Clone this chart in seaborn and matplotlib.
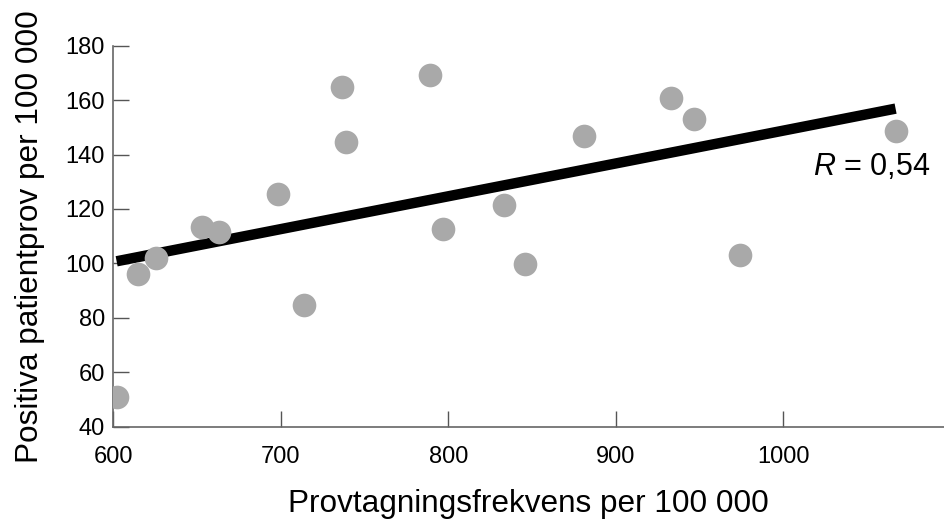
import matplotlib
matplotlib.use("Agg")
import matplotlib.pyplot as plt
import seaborn as sns
import pandas as pd

# Data
provtagning = [602, 614.6, 625.3, 652.8, 663.1, 698.5, 713.9, 736.7, 738.7, 788.9,
               797.0, 833.3, 846.0, 881.2, 933.1, 946.9, 974.3, 1067.1]
positiva = [50.8, 96.1, 101.9, 113.5, 111.4, 125.4, 84.8, 164.8, 144.5, 169.3,
            112.5, 121.6, 99.9, 146.8, 160.8, 153.1, 103.2, 148.7]
x_ticks = [600, 700, 800, 900, 1000]
y_ticks = [40, 60, 80, 100, 120, 140, 160, 180]
x_label = "Provtagningsfrekvens per 100 000"
y_label = "Positiva patientprov per 100 000"
r_text = "$\\mathit{R}$ = 0,54"

df = pd.DataFrame({"x": provtagning, "y": positiva})

sns.set_theme(style="ticks")
plt.rcParams["font.family"] = ["Liberation Sans", "DejaVu Sans"]
plt.rcParams["mathtext.fontset"] = "custom"
plt.rcParams["mathtext.it"] = "Liberation Sans:italic"
plt.rcParams["mathtext.rm"] = "Liberation Sans"

fig = plt.figure(figsize=(9.44, 5.19), dpi=100)
ax = fig.add_axes([0.12, 0.178, 0.88, 0.734])

sns.regplot(data=df, x="x", y="y", ax=ax, ci=None, truncate=True,
            scatter_kws=dict(s=290, color="#a9a9a9", linewidths=0, alpha=1, zorder=3),
            line_kws=dict(color="black", linewidth=7.5, zorder=2, solid_capstyle="butt"))

ax.set_xlim(600, 1096)
ax.set_ylim(40, 180)
ax.set_xticks(x_ticks)
ax.set_yticks(y_ticks)
ax.set_xlabel(x_label, fontsize=22.7, labelpad=15, color="black")
ax.set_ylabel(y_label, fontsize=22.7, labelpad=15, color="black")

for s in ["top", "right"]:
    ax.spines[s].set_visible(False)
for s in ["left", "bottom"]:
    ax.spines[s].set_color("#666666")
    ax.spines[s].set_linewidth(1.2)

ax.tick_params(axis="both", direction="in", length=11.5, width=1, color="#555555",
               labelsize=17, labelcolor="black")
ax.tick_params(axis="x", pad=14)
ax.tick_params(axis="y", pad=6)

ax.text(1053, 135.4, r_text, fontsize=22, ha="center", va="center", color="black")

fig.savefig("out.png", dpi=100)
